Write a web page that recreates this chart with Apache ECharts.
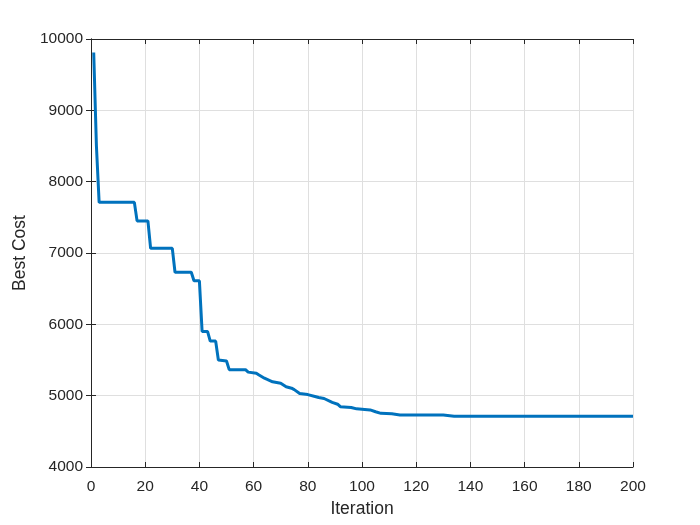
<!DOCTYPE html>
<html>
<head>
<meta charset="utf-8">
<script src="https://cdn.jsdelivr.net/npm/echarts@6/dist/echarts.min.js"></script>
<style>html,body{margin:0;padding:0;background:#fff;}#c{width:700px;height:525px;}</style>
</head>
<body>
<div id="c"></div>
<script>
var iterations = [1,2,3,16,17,21,22,30,31,37,38,40,41,43,44,46,47,50,51,57,58,61,62,64,67,70,72,74,75,77,80,83,84,86,89,91,92,96,98,103,105,107,111,114,130,134,200];
var costs = [9810,8500,7710,7710,7450,7450,7065,7065,6730,6730,6610,6610,5900,5900,5765,5765,5500,5485,5365,5365,5330,5315,5290,5245,5195,5175,5125,5105,5085,5030,5015,4985,4975,4960,4905,4880,4845,4835,4815,4800,4775,4752,4745,4730,4728,4713,4711];
var xTicks = [0,20,40,60,80,100,120,140,160,180,200];
var yTicks = [4000,5000,6000,7000,8000,9000,10000];

var pts = iterations.map(function(x,i){return [x,costs[i]];});
var font = 'Liberation Sans, Arial, Helvetica, sans-serif';
var axisCol = '#262626';
var chart = echarts.init(document.getElementById('c'), null, {renderer:'canvas'});
var aLine = {show:true,lineStyle:{color:axisCol,width:1}};
var aTick = {show:true,inside:true,length:5,lineStyle:{color:axisCol}};
function plain(v){return String(v);}
chart.setOption({
  animation:false,
  backgroundColor:'#fff',
  grid:{left:91,right:67,top:39,bottom:58,containLabel:false},
  xAxis:[{
    type:'value',min:xTicks[0],max:xTicks[xTicks.length-1],interval:20,
    name:'Iteration',nameLocation:'middle',nameGap:33,
    nameTextStyle:{color:axisCol,fontSize:17.5,fontFamily:font},
    axisLine:aLine,axisTick:aTick,
    axisLabel:{color:axisCol,fontSize:15.5,fontFamily:font,margin:12,formatter:plain},
    splitLine:{show:true,lineStyle:{color:'#dfdfdf',width:1}}
  },{
    type:'value',position:'top',min:0,max:200,interval:20,
    axisLine:aLine,axisTick:aTick,
    axisLabel:{show:false},splitLine:{show:false}
  }],
  yAxis:[{
    type:'value',min:yTicks[0],max:yTicks[yTicks.length-1],interval:1000,
    name:'Best Cost',nameLocation:'middle',nameGap:55,nameRotate:90,
    nameTextStyle:{color:axisCol,fontSize:17.5,fontFamily:font},
    axisLine:aLine,axisTick:aTick,
    axisLabel:{color:axisCol,fontSize:15.5,fontFamily:font,margin:8,formatter:plain},
    splitLine:{show:true,lineStyle:{color:'#dfdfdf',width:1}}
  },{
    type:'value',position:'right',min:4000,max:10000,interval:1000,
    axisLine:aLine,axisTick:aTick,
    axisLabel:{show:false},splitLine:{show:false}
  }],
  series:[{
    type:'line',data:pts,showSymbol:false,symbol:'none',
    lineStyle:{color:'#0072BD',width:3},
    xAxisIndex:0,yAxisIndex:0
  }]
});
</script>
</body>
</html>
